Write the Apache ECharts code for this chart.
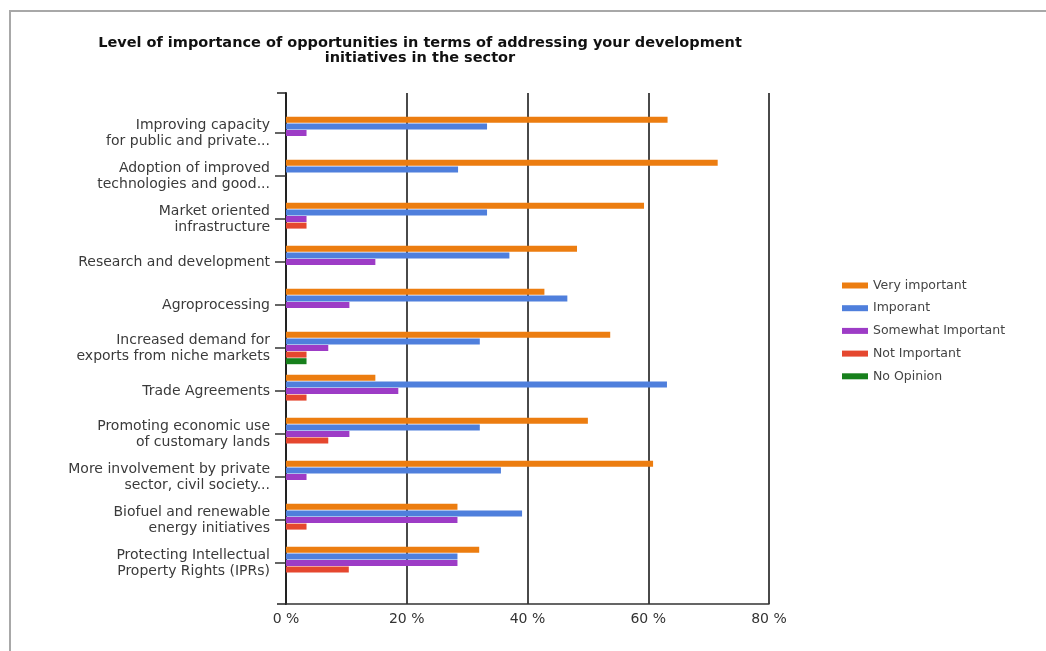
<!DOCTYPE html>
<html><head><meta charset="utf-8">
<script src="https://cdn.jsdelivr.net/npm/echarts@6/dist/echarts.min.js"></script>
<style>html,body{margin:0;padding:0;background:#fff}#c{width:1046px;height:651px}</style>
</head><body><div id="c"></div>
<script>
const categories = [
  'Improving capacity\nfor public and private...',
  'Adoption of improved\ntechnologies and good...',
  'Market oriented\ninfrastructure',
  'Research and development',
  'Agroprocessing',
  'Increased demand for\nexports from niche markets',
  'Trade Agreements',
  'Promoting economic use\nof customary lands',
  'More involvement by private\nsector, civil society...',
  'Biofuel and renewable\nenergy initiatives',
  'Protecting Intellectual\nProperty Rights (IPRs)'
];
const veryImportant      = [63.2, 71.5, 59.3, 48.2, 42.8, 53.7, 14.8, 50.0, 60.8, 28.4, 32.0];
const important          = [33.3, 28.5, 33.3, 37.0, 46.6, 32.1, 63.1, 32.1, 35.6, 39.1, 28.4];
const somewhatImportant  = [3.4, 0, 3.4, 14.8, 10.5, 7.0, 18.6, 10.5, 3.4, 28.4, 28.4];
const notImportant       = [0, 0, 3.4, 0, 0, 3.4, 3.4, 7.0, 0, 3.4, 10.4];
const noOpinion          = [0, 0, 0, 0, 0, 3.4, 0, 0, 0, 0, 0];
const seriesNames = ['Very important', 'Imporant', 'Somewhat Important', 'Not Important', 'No Opinion'];
const xTicks = [0, 20, 40, 60, 80];

const colors = ['#ec7d10', '#4f7fdc', '#9d3cc6', '#e5472f', '#17801c'];
const values = [veryImportant, important, somewhatImportant, notImportant, noOpinion];
const font = 'DejaVu Sans, Verdana, sans-serif';

const chart = echarts.init(document.getElementById('c'));
chart.setOption({
  animation: false,
  color: colors,
  title: {
    text: 'Level of importance of opportunities in terms of addressing your development\ninitiatives in the sector',
    left: 415, top: 31, textAlign: 'center',
    textStyle: {fontFamily: font, fontSize: 14.5, fontWeight: 'bold', color: '#111', lineHeight: 15}
  },
  graphic: [{type: 'polyline', shape: {points: [[10, 651], [10, 11], [1046, 11]]},
    style: {stroke: '#a8a8a8', lineWidth: 2, fill: null}, silent: true}],
  legend: {
    orient: 'vertical', left: 837, top: 274,
    itemWidth: 26, itemHeight: 6, itemGap: 9.7, icon: 'rect',
    textStyle: {fontFamily: font, fontSize: 12.5, color: '#444'},
    data: seriesNames
  },
  grid: [
    {left: 286, right: 277, top: 93, bottom: 47},
    {left: 286, right: 277, top: 111.5, bottom: 66.5}
  ],
  xAxis: [
    {type: 'value', gridIndex: 0, min: xTicks[0], max: xTicks[xTicks.length - 1], interval: 20,
      axisLine: {show: true, lineStyle: {color: '#333', width: 1.5}},
      axisTick: {show: false},
      axisLabel: {formatter: '{value} %', fontFamily: font, fontSize: 14, color: '#333', margin: 8},
      splitLine: {show: true, lineStyle: {color: '#4a4a4a', width: 2}}},
    {type: 'value', gridIndex: 1, min: 0, max: 80, show: false}
  ],
  yAxis: [
    {type: 'value', gridIndex: 0, min: 0, max: 1, interval: 1,
      axisLine: {show: true, lineStyle: {color: '#222', width: 2}},
      axisTick: {show: true, length: 9, lineStyle: {color: '#222', width: 1.5}},
      axisLabel: {show: false}, splitLine: {show: false}},
    {type: 'category', gridIndex: 1, data: categories, inverse: true,
      axisLine: {show: false},
      axisTick: {show: true, alignWithLabel: true, length: 11, lineStyle: {color: '#333', width: 1.5}},
      axisLabel: {fontFamily: font, fontSize: 14, color: '#3a3a3a', lineHeight: 16, margin: 16,
        padding: [4, 0, 0, 0]}}
  ],
  series: values.map((v, i) => ({
    name: seriesNames[i], type: 'bar', xAxisIndex: 1, yAxisIndex: 1,
    data: v, barWidth: 6, barGap: '10%'
  }))
});
</script></body></html>
